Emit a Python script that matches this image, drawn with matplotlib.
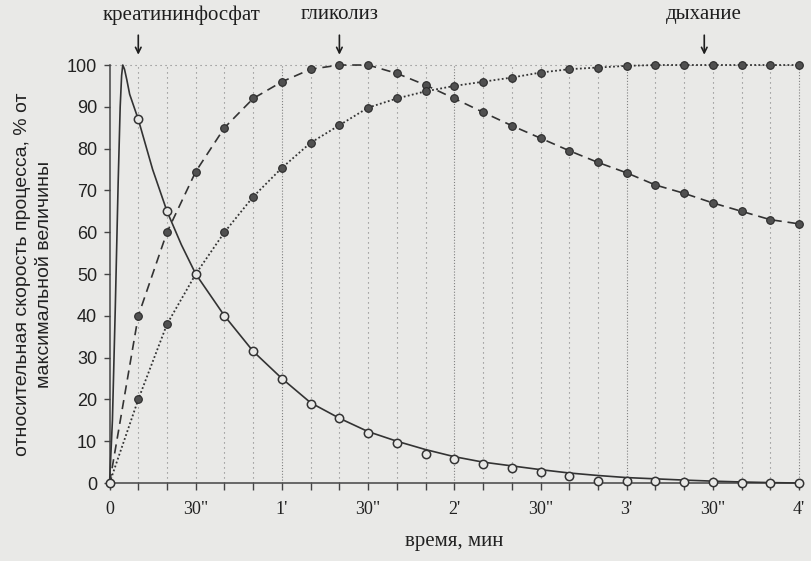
# ---------------------------------------------------------------------------------------------- #
# Energy supply during maximal work: relative rate of the three processes over time.
# ---------------------------------------------------------------------------------------------- #
import matplotlib.pyplot as plt

# ---------------------------------------------------------------------------------------------- #
# We define each data set (time in seconds, rate in % of maximum).
# ---------------------------------------------------------------------------------------------- #
Time = [0, 10, 20, 30, 40, 50, 60, 70, 80, 90, 100, 110, 120,
        130, 140, 150, 160, 170, 180, 190, 200, 210, 220, 230, 240]

# Creatine phosphate: measured points and the smooth curve drawn through them.
CP_Points = [0, 87, 65, 50, 40, 31.5, 25, 19, 15.5, 12, 9.5, 7, 5.7,
             4.5, 3.7, 2.7, 1.7, 0.6, 0.6, 0.5, 0.2, 0.2, 0.1, 0, 0]
CP_Curve_Time = [0, 1, 2, 3, 3.7, 4.2, 4.6, 5.2, 6, 7, 8.5, 10, 15, 20, 25, 30, 40, 50, 60,
                 70, 80, 90, 100, 110, 120, 130, 140, 150, 160, 170, 180, 190, 200, 210,
                 220, 230, 240]
CP_Curve_Vals = [0, 15, 42, 72, 90, 97.5, 100, 99, 96.5, 93, 90, 87, 75, 65, 57, 50, 40,
                 31.5, 25, 19.2, 15.5, 12.3, 10, 8, 6.3, 5.0, 4.1, 3.2, 2.4, 1.8, 1.3, 1.0,
                 0.7, 0.45, 0.25, 0.1, 0]

# Glycolysis.
Glyco_Vals = [0, 40, 60, 74.5, 85, 92, 96, 99, 100, 100, 98, 95.2, 92,
              88.7, 85.5, 82.5, 79.5, 76.7, 74.2, 71.3, 69.3, 67, 65, 63, 62]

# Respiration.
Resp_Vals = [0, 20, 38, 50, 60, 68.5, 75.4, 81.4, 85.6, 89.8, 92, 93.7, 95,
             96, 97, 98.2, 99, 99.4, 99.8, 100, 100, 100, 100, 100, 100]

# Axis ticks and process labels.
XTicks = [0, 30, 60, 90, 120, 150, 180, 210, 240]
XTickLabels = ['0', '30"', "1'", '30"', "2'", '30"', "3'", '30"', "4'"]
YTicks = [0, 10, 20, 30, 40, 50, 60, 70, 80, 90, 100]
Labels = ['креатининфосфат', 'гликолиз', 'дыхание']
LabelTextTime = [25, 80, 207]
LabelArrowTime = [10, 80, 207]

# ---------------------------------------------------------------------------------------------- #
# We define plot properties.
# ---------------------------------------------------------------------------------------------- #
PaperColor = '#e9e9e7'
InkColor = '#333333'
GridColor = '#808080'
SerifFont = 'Liberation Serif'
SansFont = 'Liberation Sans'

fig = plt.figure(figsize = (8.12, 5.61), dpi = 100, facecolor = PaperColor)
ax = fig.add_axes([0.1243, 0.1241, 0.8704, 0.7749])
ax.set_facecolor(PaperColor)
ax.set_xlim(-3, 243)
ax.set_ylim(-2, 102)

# We draw the dotted time grid (denser on whole minutes).
for t in Time[1:]:
    Dash = (0, (1, 1.6)) if t % 60 == 0 else (0, (1, 3.5))
    ax.plot([t, t], [0, 100], color = GridColor, lw = 0.8, linestyle = Dash, zorder = 1)
ax.plot([0, 240], [100, 100], color = GridColor, lw = 0.8, linestyle = (0, (1, 3.5)), zorder = 1)

# We plot.
ax.plot(Time, Glyco_Vals, color = InkColor, lw = 1.2, linestyle = (0, (5.5, 3.5)), zorder = 3)
ax.plot(Time, Glyco_Vals, linestyle = 'none', marker = 'o', ms = 5.5,
        mfc = '#505050', mec = '#2a2a2a', mew = 0.8, zorder = 4)
ax.plot(Time, Resp_Vals, color = InkColor, lw = 1.3, linestyle = (0, (1, 1.3)), zorder = 3)
ax.plot(Time, Resp_Vals, linestyle = 'none', marker = 'o', ms = 5.5,
        mfc = '#505050', mec = '#2a2a2a', mew = 0.8, zorder = 4)
ax.plot(CP_Curve_Time, CP_Curve_Vals, color = InkColor, lw = 1.2, zorder = 3)
ax.plot(Time, CP_Points, linestyle = 'none', marker = 'o', ms = 6,
        mfc = PaperColor, mec = InkColor, mew = 1.1, zorder = 5)

# We configure the axes.
for side in ['top', 'right']:
    ax.spines[side].set_visible(False)
ax.spines['left'].set_position(('data', 0))
ax.spines['bottom'].set_position(('data', 0))
ax.spines['left'].set_bounds(0, 100)
ax.spines['bottom'].set_bounds(0, 240)
for side in ['left', 'bottom']:
    ax.spines[side].set_color('#444444')
    ax.spines[side].set_linewidth(1.1)

ax.set_xticks(XTicks)
ax.set_xticklabels(XTickLabels, fontsize = 13, fontname = SerifFont)
ax.set_xticks(Time, minor = True)
ax.set_yticks(YTicks)
ax.set_yticklabels([str(v) for v in YTicks], fontsize = 13, fontname = SansFont)
ax.tick_params(axis = 'x', which = 'both', direction = 'out', length = 5, width = 1,
               color = '#444444', pad = 8, labelcolor = '#222222')
ax.tick_params(axis = 'y', direction = 'out', length = 4, width = 1,
               color = '#444444', pad = 5, labelcolor = '#222222')

ax.set_xlabel('время, мин', fontsize = 15, fontname = SerifFont, color = '#222222', labelpad = 10)
ax.set_ylabel('относительная скорость процесса, % от\nмаксимальной величины',
              fontsize = 14, fontname = SansFont, color = '#222222', labelpad = 10,
              linespacing = 1.35)

# We label the three processes with arrows.
for Label, tText, tArrow in zip(Labels, LabelTextTime, LabelArrowTime):
    ax.text(tText, 112, Label, ha = 'center', va = 'center', fontsize = 15,
            fontname = SerifFont, color = '#1e1e1e', clip_on = False)
    ax.annotate('', xy = (tArrow, 101.8), xytext = (tArrow, 107.8),
                arrowprops = dict(arrowstyle = '->', lw = 1.2, color = '#1e1e1e'),
                annotation_clip = False)

fig.savefig('out.png', dpi = 100, facecolor = PaperColor)
